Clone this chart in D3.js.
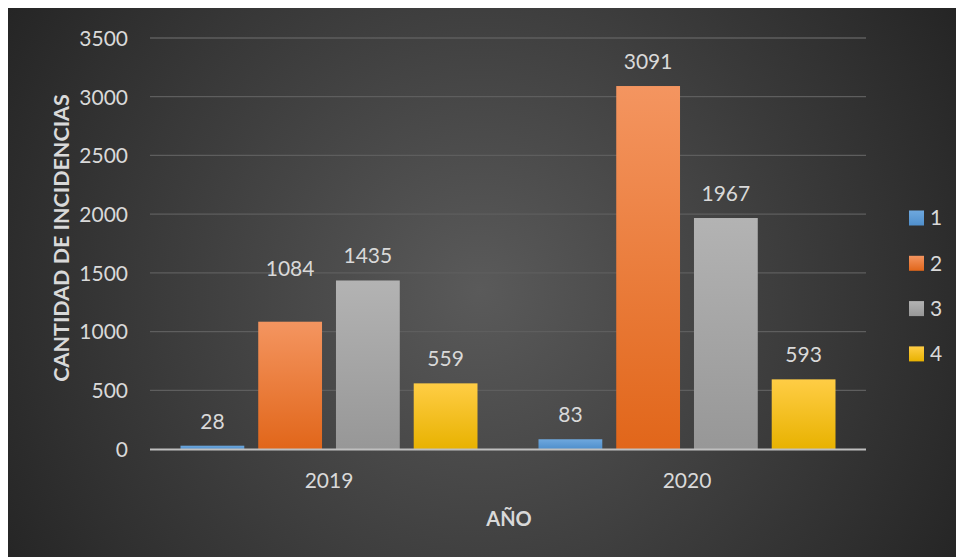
<!DOCTYPE html>
<html><head><meta charset="utf-8">
<script src="https://cdn.jsdelivr.net/npm/d3@7"></script>
<style>html,body{margin:0;padding:0;background:#fff;}svg{display:block;}</style>
</head><body>
<script>
const categories = ["2019", "2020"];
const seriesNames = ["1", "2", "3", "4"];
const values1 = [28, 83];
const values2 = [1084, 3091];
const values3 = [1435, 1967];
const values4 = [559, 593];
const yTicks = [0, 500, 1000, 1500, 2000, 2500, 3000, 3500];
const seriesValues = [values1, values2, values3, values4];
const colorsTop = ["#6ea8de", "#f49560", "#b3b3b3", "#ffcd45"];
const colorsBot = ["#4f8fcc", "#e1661a", "#979797", "#e8b200"];

const W = 956, H = 557;
const svg = d3.select("body").append("svg").attr("width", W).attr("height", H);
const defs = svg.append("defs");
const rg = defs.append("radialGradient").attr("id", "bg")
  .attr("gradientUnits", "userSpaceOnUse").attr("cx", 480).attr("cy", 290).attr("r", 560);
rg.append("stop").attr("offset", "0").attr("stop-color", "#5a5a5a");
rg.append("stop").attr("offset", "1").attr("stop-color", "#242424");
seriesNames.forEach((s, i) => {
  const lg = defs.append("linearGradient").attr("id", "g" + i).attr("x1", 0).attr("y1", 0).attr("x2", 0).attr("y2", 1);
  lg.append("stop").attr("offset", "0").attr("stop-color", colorsTop[i]);
  lg.append("stop").attr("offset", "1").attr("stop-color", colorsBot[i]);
});
svg.append("rect").attr("x", 8).attr("y", 8).attr("width", W - 8).attr("height", H - 8).attr("fill", "url(#bg)");

const x0 = d3.scaleBand().domain(categories).range([150, 866]).paddingInner(0).paddingOuter(0);
const x1 = d3.scaleBand().domain(seriesNames).range([30.5, x0.bandwidth() - 30.5]).paddingInner(14 / 78).paddingOuter(0);
const y = d3.scaleLinear().domain([0, 3500]).range([449, 38]);

const font = "Lato, 'Open Sans', sans-serif";
const txt = "#d9d9d9";
// gridlines
svg.append("g").selectAll("line").data(yTicks.filter(d => d > 0)).join("line")
  .attr("x1", 150).attr("x2", 866).attr("y1", d => y(d)).attr("y2", d => y(d))
  .attr("stroke", "#5e5e5e").attr("stroke-width", 1.3);

// y axis labels
const yAxis = d3.axisLeft(y).tickValues(yTicks).tickFormat(d3.format("d")).tickSize(0).tickPadding(0);
const ya = svg.append("g").attr("transform", "translate(128,0)").call(yAxis);
ya.select(".domain").remove();
ya.selectAll("text").attr("fill", txt).style("font-family", font).style("font-size", "21px").attr("dy", "0.35em");

// bars
const groups = svg.append("g").selectAll("g").data(categories).join("g")
  .attr("transform", d => `translate(${x0(d)},0)`);
groups.each(function (cat, ci) {
  const g = d3.select(this);
  seriesNames.forEach((s, si) => {
    const v = seriesValues[si][ci];
    g.append("rect").attr("x", x1(s)).attr("width", x1.bandwidth())
      .attr("y", y(v)).attr("height", y(0) - y(v)).attr("fill", `url(#g${si})`);
    // label for 1084 was moved up in the original
    const lift = (si === 1 && ci === 0) ? 29 : 0;
    g.append("text").attr("x", x1(s) + x1.bandwidth() / 2).attr("y", y(v) - 17 - lift)
      .attr("text-anchor", "middle").attr("fill", txt)
      .style("font-family", font).style("font-size", "21px").text(v);
  });
});

// baseline
svg.append("line").attr("x1", 150).attr("x2", 866).attr("y1", y(0) + 0.5).attr("y2", y(0) + 0.5)
  .attr("stroke", "#bfbfbf").attr("stroke-width", 2);

// x axis labels
const xAxis = d3.axisBottom(x0).tickSize(0).tickPadding(0);
const xa = svg.append("g").attr("transform", "translate(0,481)").call(xAxis);
xa.select(".domain").remove();
xa.selectAll("text").attr("fill", txt).attr("dy", "0.35em").style("font-family", font).style("font-size", "21px");

// axis titles
svg.append("text").attr("x", 509).attr("y", 526).attr("text-anchor", "middle")
  .attr("fill", txt).style("font-family", font).style("font-size", "20px").style("font-weight", "bold").text("AÑO");
svg.append("text").attr("transform", "translate(69,238) rotate(-90)").attr("text-anchor", "middle")
  .attr("fill", txt).style("font-family", font).style("font-size", "21.5px").style("font-weight", "bold").text("CANTIDAD DE INCIDENCIAS");

// legend
const leg = svg.append("g").selectAll("g").data(seriesNames).join("g")
  .attr("transform", (d, i) => `translate(909,${218 + i * 45.3})`);
leg.append("rect").attr("x", 0).attr("y", -7.5).attr("width", 15).attr("height", 15).attr("fill", (d, i) => `url(#g${i})`);
leg.append("text").attr("x", 21).attr("y", 0).attr("dy", "0.35em").attr("fill", txt)
  .style("font-family", font).style("font-size", "21px").text(d => d);
</script>
</body></html>
